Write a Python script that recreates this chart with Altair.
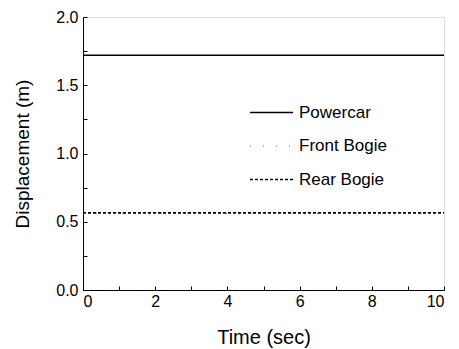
import altair as alt
import pandas as pd

# data
time = [0, 10]
powercar = [1.72, 1.72]
front_bogie = [0.56, 0.56]
rear_bogie = [0.565, 0.565]
series = ["Powercar", "Front Bogie", "Rear Bogie"]

x_ticks = list(range(0, 11))
y_ticks = [0, 0.25, 0.5, 0.75, 1.0, 1.25, 1.5, 1.75, 2.0]

rows = []
for name, vals in zip(series, [powercar, front_bogie, rear_bogie]):
    for t, v in zip(time, vals):
        rows.append({"Time": t, "Displacement": v, "Series": name})
df = pd.DataFrame(rows)

font = "Liberation Sans"

legend = alt.Legend(title=None, orient="none", legendX=166, legendY=73,
                    symbolType="stroke", symbolSize=1849,
                    symbolStrokeWidth=1.5, labelFont=font,
                    labelFontSize=17, labelColor="black",
                    labelOffset=5, rowPadding=2.5)

chart = alt.Chart(df).mark_line(strokeWidth=1.6).encode(
    x=alt.X("Time:Q", scale=alt.Scale(domain=[0, 10], nice=False),
            axis=alt.Axis(title="Time (sec)", values=x_ticks,
                          labelExpr="datum.value % 2 == 0 ? datum.label : ''",
                          tickSize={"expr": "-4"}, labelPadding=7, grid=False,
                          domainColor="black", tickColor="black",
                          labelFont=font, labelFontSize=16, labelColor="black",
                          titleFont=font, titleFontSize=20, titleFontWeight="normal",
                          titleColor="black", titlePadding=18)),
    y=alt.Y("Displacement:Q", scale=alt.Scale(domain=[0, 2], nice=False),
            axis=alt.Axis(title="Displacement (m)", values=y_ticks,
                          labelExpr="(datum.value * 2) % 1 == 0 ? format(datum.value, '.1f') : ''",
                          tickSize={"expr": "-4"}, labelPadding=9, grid=False,
                          domainColor="black", tickColor="black",
                          labelFont=font, labelFontSize=16, labelColor="black",
                          titleFont=font, titleFontSize=19, titleFontWeight="normal",
                          titleColor="black", titlePadding=23)),
    color=alt.Color("Series:N", sort=series,
                    scale=alt.Scale(domain=series, range=["black", "#999999", "black"]),
                    legend=legend),
    strokeDash=alt.StrokeDash("Series:N", sort=series,
                              scale=alt.Scale(domain=series, range=[[1, 0], [1, 12], [3, 2]]),
                              legend=legend),
    order=alt.Order("Series:N"),
).properties(
    width=361, height=273,
    autosize=alt.AutoSizeParams(type="none"),
    padding={"left": 83, "top": 17, "right": 15, "bottom": 59},
).configure_view(stroke="black", strokeWidth=1.2).configure(background="white")

chart.save("out.html", embed_options={"renderer": "svg", "actions": False})
